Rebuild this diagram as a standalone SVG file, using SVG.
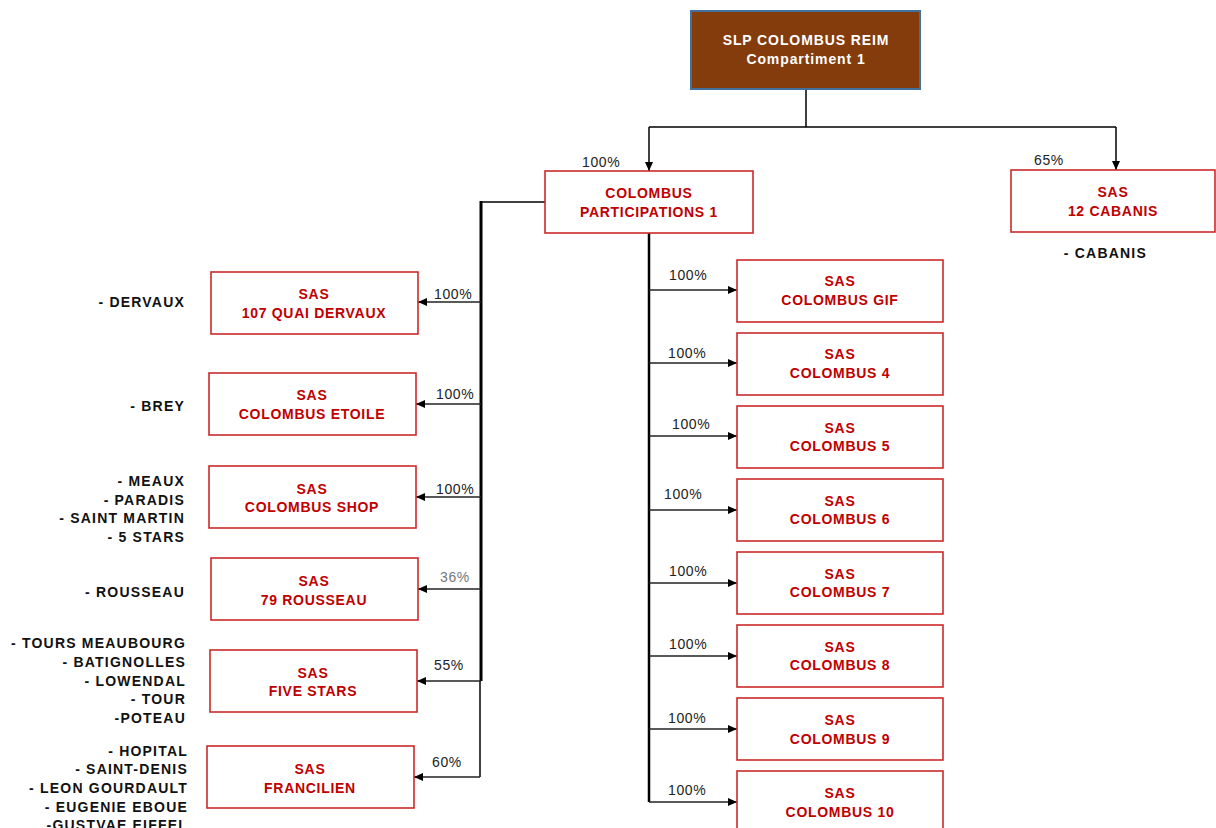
<svg xmlns="http://www.w3.org/2000/svg" width="1216" height="828" viewBox="0 0 1216 828">
<defs>
<marker id="arr" markerUnits="userSpaceOnUse" markerWidth="10" markerHeight="10" refX="9" refY="4" orient="auto">
<path d="M0,0 L9,4 L0,8 Z" fill="#000"/>
</marker>
<style>
.box{fill:#fff;stroke:#CC2a2a;stroke-width:1.6}
.bt{font-family:"Liberation Sans",Arial,sans-serif;font-weight:bold;font-size:14px;fill:#C00000;text-anchor:middle;letter-spacing:0.7px}
.tt{font-family:"Liberation Sans",Arial,sans-serif;font-weight:bold;font-size:14px;fill:#fff;text-anchor:middle;letter-spacing:0.9px}
.pc{font-family:"Liberation Sans",Arial,sans-serif;font-size:14px;fill:#222;letter-spacing:0.6px}
.lb{font-family:"Liberation Sans",Arial,sans-serif;font-weight:bold;font-size:14px;fill:#111;text-anchor:end;letter-spacing:1.2px}
.ln{fill:none;stroke:#000;stroke-width:1.5}
.br{fill:none;stroke:#222;stroke-width:1.5}
</style>
</defs>
<rect width="1216" height="828" fill="#fff"/>

<g id="connectors">
<path class="ln" d="M806,89 V127 M649,127 H1116"/>
<path class="ln" d="M649,127 V171" marker-end="url(#arr)"/>
<path class="ln" d="M1116,127 V170" marker-end="url(#arr)"/>
<path class="ln" d="M545,202 H481"/>
<path fill="none" stroke="#000" stroke-width="3" d="M481,201 V681"/>
<path class="ln" d="M480,681 V777"/>
<path class="br" d="M481,302 H418" marker-end="url(#arr)"/>
<path class="br" d="M481,404 H416" marker-end="url(#arr)"/>
<path class="br" d="M481,497 H416" marker-end="url(#arr)"/>
<path class="br" d="M481,589 H418" marker-end="url(#arr)"/>
<path class="br" d="M481,681 H417" marker-end="url(#arr)"/>
<path class="br" d="M480,777 H414" marker-end="url(#arr)"/>
<path fill="none" stroke="#000" stroke-width="2.5" d="M649,233 V802"/>
<path class="br" d="M649,290 H737" marker-end="url(#arr)"/>
<path class="br" d="M649,363 H737" marker-end="url(#arr)"/>
<path class="br" d="M649,436 H737" marker-end="url(#arr)"/>
<path class="br" d="M649,510 H737" marker-end="url(#arr)"/>
<path class="br" d="M649,583 H737" marker-end="url(#arr)"/>
<path class="br" d="M649,656 H737" marker-end="url(#arr)"/>
<path class="br" d="M649,729 H737" marker-end="url(#arr)"/>
<path class="br" d="M649,802 H737" marker-end="url(#arr)"/>
<text class="pc" x="582" y="167">100%</text>
<text class="pc" x="1034" y="165">65%</text>
<text class="pc" x="434" y="299">100%</text>
<text class="pc" x="436" y="399">100%</text>
<text class="pc" x="436" y="494">100%</text>
<text class="pc" x="440" y="582" style="fill:#777">36%</text>
<text class="pc" x="434" y="670">55%</text>
<text class="pc" x="432" y="767">60%</text>
<text class="pc" x="669" y="280">100%</text>
<text class="pc" x="668" y="358">100%</text>
<text class="pc" x="672" y="429">100%</text>
<text class="pc" x="664" y="499">100%</text>
<text class="pc" x="669" y="576">100%</text>
<text class="pc" x="669" y="649">100%</text>
<text class="pc" x="668" y="723">100%</text>
<text class="pc" x="668" y="795">100%</text>
</g>

<g id="slp">
<rect x="691" y="11" width="229" height="78" fill="#843C0C" stroke="#41719C" stroke-width="2"/>
<text class="tt" x="806" y="45">SLP COLOMBUS REIM</text>
<text class="tt" x="806" y="64">Compartiment 1</text>
</g>

<g id="cp1">
<rect class="box" x="545" y="171" width="208" height="62"/>
<text class="bt" x="649" y="198">COLOMBUS</text>
<text class="bt" x="649" y="217">PARTICIPATIONS 1</text>
</g>

<g id="cabanis">
<rect class="box" x="1011" y="170" width="204" height="62"/>
<text class="bt" x="1113" y="197">SAS</text>
<text class="bt" x="1113" y="216">12 CABANIS</text>
<text class="lb" x="1147" y="258">- CABANIS</text>
</g>

<g id="dervaux">
<rect class="box" x="211" y="272" width="207" height="62"/>
<text class="bt" x="314" y="299">SAS</text>
<text class="bt" x="314" y="318">107  QUAI DERVAUX</text>
<text class="lb" x="185" y="307">- DERVAUX</text>
</g>

<g id="etoile">
<rect class="box" x="209" y="373" width="207" height="62"/>
<text class="bt" x="312" y="400">SAS</text>
<text class="bt" x="312" y="419">COLOMBUS ETOILE</text>
<text class="lb" x="185" y="411">- BREY</text>
</g>

<g id="shop">
<rect class="box" x="209" y="466" width="207" height="62"/>
<text class="bt" x="312" y="494">SAS</text>
<text class="bt" x="312" y="512">COLOMBUS SHOP</text>
<text class="lb" x="185" y="486">- MEAUX</text>
<text class="lb" x="185" y="505">- PARADIS</text>
<text class="lb" x="185" y="523">- SAINT MARTIN</text>
<text class="lb" x="185" y="542">- 5 STARS</text>
</g>

<g id="rousseau">
<rect class="box" x="211" y="558" width="207" height="62"/>
<text class="bt" x="314" y="586">SAS</text>
<text class="bt" x="314" y="605">79 ROUSSEAU</text>
<text class="lb" x="185" y="597">- ROUSSEAU</text>
</g>

<g id="fivestars">
<rect class="box" x="210" y="650" width="207" height="62"/>
<text class="bt" x="313" y="678">SAS</text>
<text class="bt" x="313" y="696">FIVE STARS</text>
<text class="lb" x="186" y="648">- TOURS MEAUBOURG</text>
<text class="lb" x="186" y="667">- BATIGNOLLES</text>
<text class="lb" x="186" y="686">- LOWENDAL</text>
<text class="lb" x="186" y="704">- TOUR</text>
<text class="lb" x="186" y="723">-POTEAU</text>
</g>

<g id="francilien">
<rect class="box" x="207" y="746" width="207" height="62"/>
<text class="bt" x="310" y="774">SAS</text>
<text class="bt" x="310" y="793">FRANCILIEN</text>
<text class="lb" x="188" y="756">- HOPITAL</text>
<text class="lb" x="188" y="774">- SAINT-DENIS</text>
<text class="lb" x="188" y="793">- LEON GOURDAULT</text>
<text class="lb" x="188" y="812">- EUGENIE EBOUE</text>
<text class="lb" x="188" y="830">-GUSTVAE EIFFEL</text>
</g>

<g id="gif">
<rect class="box" x="737" y="260" width="206" height="62"/>
<text class="bt" x="840" y="286">SAS</text>
<text class="bt" x="840" y="305">COLOMBUS GIF</text>
</g>
<g id="c4">
<rect class="box" x="737" y="333" width="206" height="62"/>
<text class="bt" x="840" y="359">SAS</text>
<text class="bt" x="840" y="378">COLOMBUS 4</text>
</g>
<g id="c5">
<rect class="box" x="737" y="406" width="206" height="62"/>
<text class="bt" x="840" y="433">SAS</text>
<text class="bt" x="840" y="451">COLOMBUS 5</text>
</g>
<g id="c6">
<rect class="box" x="737" y="479" width="206" height="62"/>
<text class="bt" x="840" y="506">SAS</text>
<text class="bt" x="840" y="524">COLOMBUS 6</text>
</g>
<g id="c7">
<rect class="box" x="737" y="552" width="206" height="62"/>
<text class="bt" x="840" y="579">SAS</text>
<text class="bt" x="840" y="597">COLOMBUS 7</text>
</g>
<g id="c8">
<rect class="box" x="737" y="625" width="206" height="62"/>
<text class="bt" x="840" y="652">SAS</text>
<text class="bt" x="840" y="670">COLOMBUS 8</text>
</g>
<g id="c9">
<rect class="box" x="737" y="698" width="206" height="62"/>
<text class="bt" x="840" y="725">SAS</text>
<text class="bt" x="840" y="744">COLOMBUS 9</text>
</g>
<g id="c10">
<rect class="box" x="737" y="771" width="206" height="62"/>
<text class="bt" x="840" y="798">SAS</text>
<text class="bt" x="840" y="817">COLOMBUS 10</text>
</g>
</svg>
